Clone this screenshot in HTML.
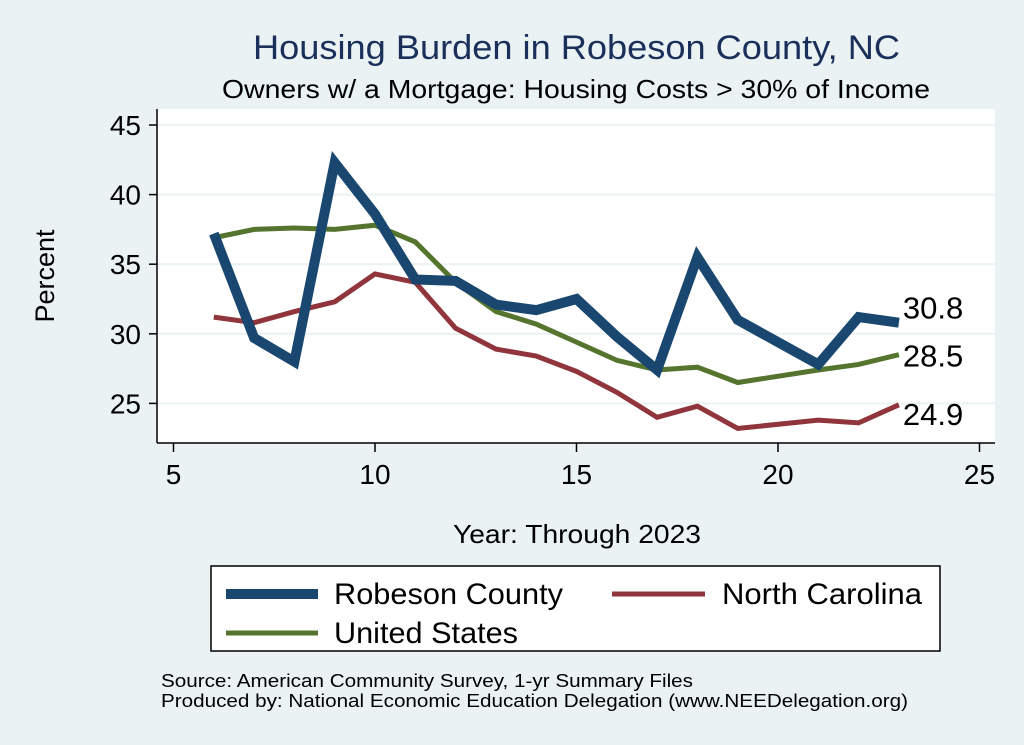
<!DOCTYPE html>
<html><head><meta charset="utf-8"><style>
body{margin:0;background:#eaf2f3;}
svg{display:block;font-family:"Liberation Sans",sans-serif;}
</style></head><body>
<svg width="1024" height="745" viewBox="0 0 1024 745">
<rect x="0" y="0" width="1024" height="745" fill="#eaf2f3"/>
<text x="253" y="59" font-size="34" textLength="647" lengthAdjust="spacingAndGlyphs" fill="#1a2f5a">Housing Burden in Robeson County, NC</text>
<text x="222" y="98" font-size="26" textLength="708" lengthAdjust="spacingAndGlyphs" fill="#000">Owners w/ a Mortgage: Housing Costs &gt; 30% of Income</text>
<rect x="157" y="109" width="838" height="334" fill="#fff"/>
<g id="grid"></g>
<g id="axes"></g>
<g id="series"></g>
<g id="labels"></g>
<text x="453" y="543" font-size="26" textLength="248" lengthAdjust="spacingAndGlyphs">Year: Through 2023</text>
<text transform="translate(54,276) rotate(-90)" text-anchor="middle" font-size="27">Percent</text>
<g>
<rect x="211" y="566" width="729" height="85" fill="#fff" stroke="#000" stroke-width="1.5"/>
<g><line x1="226" y1="594" x2="318" y2="594" stroke="#1a476f" stroke-width="10"/><text x="334" y="604" font-size="30" textLength="229" lengthAdjust="spacingAndGlyphs">Robeson County</text></g>
<g><line x1="612" y1="594" x2="705" y2="594" stroke="#90353b" stroke-width="5"/><text x="722" y="604" font-size="30" textLength="200" lengthAdjust="spacingAndGlyphs">North Carolina</text></g>
<g><line x1="226" y1="633" x2="318" y2="633" stroke="#55752f" stroke-width="5"/><text x="334" y="643" font-size="30" textLength="184" lengthAdjust="spacingAndGlyphs">United States</text></g>
</g>
<text x="161" y="687" font-size="18" textLength="532" lengthAdjust="spacingAndGlyphs">Source: American Community Survey, 1-yr Summary Files</text>
<text x="161" y="707" font-size="18" textLength="747" lengthAdjust="spacingAndGlyphs">Produced by: National Economic Education Delegation (www.NEEDelegation.org)</text>
</svg>
<script>
const years=[6,7,8,9,10,11,12,13,14,15,16,17,18,19,21,22,23];
const robeson=[37.2,29.7,28.0,42.3,38.6,33.9,33.8,32.1,31.7,32.5,29.8,27.4,35.5,31.0,27.8,31.2,30.8];
const nc=[31.2,30.8,31.6,32.3,34.3,33.7,30.4,28.9,28.4,27.3,25.8,24.0,24.8,23.2,23.8,23.6,24.9];
const us=[36.9,37.5,37.6,37.5,37.8,36.6,33.7,31.6,30.7,29.4,28.1,27.4,27.6,26.5,27.4,27.8,28.5];
const xTicks=[5,10,15,20,25];
const yTicks=[25,30,35,40,45];
const NS="http://www.w3.org/2000/svg";
function X(v){return 173.5+(v-5)*40.3;}
function Y(v){return 125+(45-v)*13.92;}
function mk(tag,attrs,parent){const e=document.createElementNS(NS,tag);for(const k in attrs)e.setAttribute(k,attrs[k]);parent.appendChild(e);return e;}
const grid=document.getElementById('grid'),axes=document.getElementById('axes'),series=document.getElementById('series'),labels=document.getElementById('labels');
yTicks.forEach(t=>{
 const g=mk('line',{x1:157,x2:995,y1:Y(t),y2:Y(t),stroke:'#eaf2f3','stroke-width':2},grid);
 
 
 const tk=mk('line',{x1:149,x2:157,y1:Y(t),y2:Y(t),stroke:'#000','stroke-width':1.5},axes);
 
 
 const tl=mk('text',{x:141,y:Y(t)+10,'text-anchor':'end','font-size':28},axes);
 tl.textContent=t;
 
 
});
xTicks.forEach(t=>{
 const tk=mk('line',{x1:X(t),x2:X(t),y1:443,y2:452,stroke:'#000','stroke-width':1.5},axes);
 
 
 const tl=mk('text',{x:X(t),y:484,'text-anchor':'middle','font-size':28},axes);
 tl.textContent=t;
 
 
});
const la=mk('line',{x1:157,x2:157,y1:109,y2:443,stroke:'#000','stroke-width':1.5},axes);


const ba=mk('line',{x1:157,x2:995,y1:443,y2:443,stroke:'#000','stroke-width':1.5},axes);


function draw(vals,color,w,name){
 const p=mk('polyline',{points:years.map((y,i)=>X(y)+','+Y(vals[i])).join(' '),fill:'none',stroke:color,'stroke-width':w,'stroke-linejoin':'miter','stroke-miterlimit':10},series);
 
 
}
draw(nc,'#90353b',5,'line-north-carolina');
draw(us,'#55752f',5,'line-united-states');
draw(robeson,'#1a476f',10,'line-robeson-county');
const last=years.length-1;
[[robeson,-4,'label-robeson'],[us,12,'label-us'],[nc,20,'label-nc']].forEach(([v,dy,n])=>{
 const t=mk('text',{x:X(years[last])+4,y:Y(v[last])+dy,'font-size':31},labels);
 t.textContent=v[last].toFixed(1);
 
 
});
</script>
</body></html>
